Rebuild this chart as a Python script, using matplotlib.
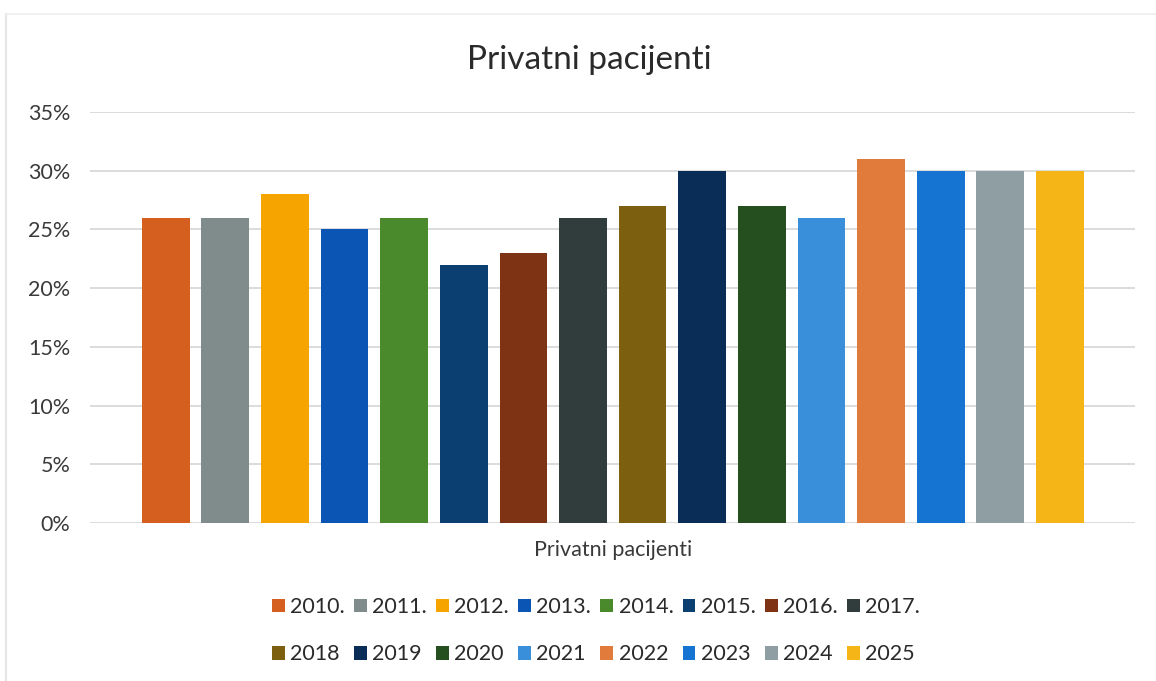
import matplotlib
matplotlib.use("Agg")
import matplotlib.pyplot as plt
from matplotlib.ticker import PercentFormatter, MultipleLocator
from matplotlib.patches import Patch
from matplotlib.lines import Line2D

plt.rcParams['font.family'] = ['Lato', 'DejaVu Sans']

title = "Privatni pacijenti"
category = "Privatni pacijenti"
years = ["2010.", "2011.", "2012.", "2013.", "2014.", "2015.", "2016.", "2017.",
         "2018", "2019", "2020", "2021", "2022", "2023", "2024", "2025"]
values = [0.26, 0.26, 0.28, 0.25, 0.26, 0.22, 0.23, 0.26,
          0.27, 0.30, 0.27, 0.26, 0.31, 0.30, 0.30, 0.30]
colors = ["#D45F1E", "#7F8C8B", "#F5A400", "#0B55B5", "#4A8A2C", "#0B3F72",
          "#7E3414", "#313C3C", "#7D5F10", "#0A2D57", "#264F1F", "#3A8FDB",
          "#E07B3C", "#1573D2", "#8F9EA2", "#F6B516"]

fig = plt.figure(figsize=(11.56, 6.81), dpi=100)
ax = fig.add_axes([90 / 1156, 0.232, 1045 / 1156, 0.6035])

x = list(range(len(values)))
ax.bar(x, values, width=0.8, color=colors, zorder=3)

ax.set_xlim(-1.27, 16.26)
ax.set_ylim(0, 0.35)
ax.yaxis.set_major_locator(MultipleLocator(0.05))
ax.yaxis.set_major_formatter(PercentFormatter(1.0, decimals=0))
ax.grid(axis='y', color='#D6D6D6', linewidth=1.2, zorder=0)
for s in ax.spines.values():
    s.set_visible(False)
ax.tick_params(axis='y', length=0, labelsize=15.5, colors='#3A3A3A', pad=14)
ax.set_xticks([7.5])
ax.set_xticklabels([category])
ax.tick_params(axis='x', length=0, labelsize=15.5, colors='#3A3A3A', pad=12)

fig.text(0.51, 0.912, title, ha='center', va='center', fontsize=24, color='#2A2A2A')

# faint page edge from the scan
fig.add_artist(Line2D([6 / 1156, 6 / 1156], [0, 1 - 14 / 681], transform=fig.transFigure,
                      color='#E6E6E6', linewidth=1.5))
fig.add_artist(Line2D([6 / 1156, 1], [1 - 14 / 681, 1 - 14 / 681], transform=fig.transFigure,
                      color='#EFEFEF', linewidth=1.2))

handles = [Patch(facecolor=c, label=y) for c, y in zip(colors, years)]
ncol = 8
nrow = 2
ordered = [handles[r * ncol + c] for c in range(ncol) for r in range(nrow)]
fig.legend(handles=ordered, loc='center', bbox_to_anchor=(0.5155, 0.074), ncol=ncol,
           frameon=False, fontsize=15.5, handlelength=0.6, handleheight=0.6,
           handletextpad=0.25, columnspacing=0.42, labelspacing=1.27,
           labelcolor='#2A2A2A')

fig.savefig("out.png", dpi=100)
